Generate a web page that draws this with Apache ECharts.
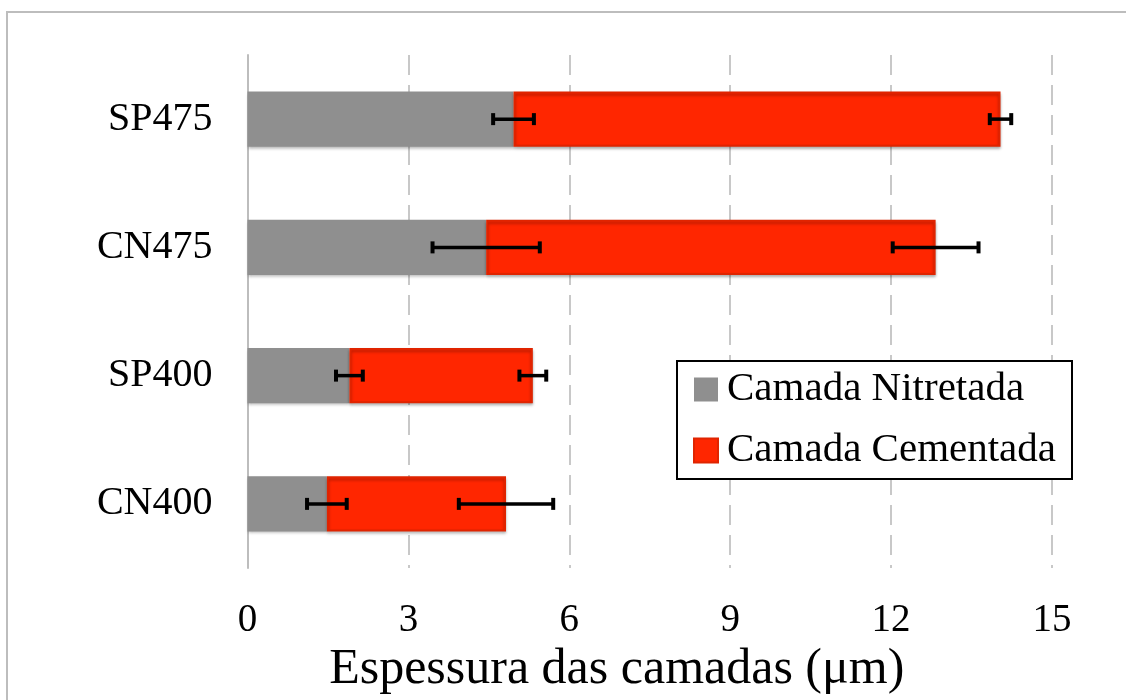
<!DOCTYPE html>
<html>
<head>
<meta charset="utf-8">
<script src="https://cdn.jsdelivr.net/npm/echarts@6/dist/echarts.min.js"></script>
<style>
html,body{margin:0;padding:0;background:#fff;}
#chart{width:1126px;height:700px;}
</style>
</head>
<body>
<div id="chart"></div>
<script>
const categories = ['CN400', 'SP400', 'CN475', 'SP475'];
const seriesNames = ['Camada Nitretada', 'Camada Cementada'];
const nitretada = [1.48, 1.90, 4.45, 4.96];
const cementada = [3.34, 3.42, 8.38, 9.08];
const errNitretada = [0.37, 0.25, 1.0, 0.38];
const errTotal = [0.88, 0.25, 0.8, 0.2];
const xTicks = [0, 3, 6, 9, 12, 15];
const axisTitle = 'Espessura das camadas (μm)';

const FONT = '"Liberation Serif", "Times New Roman", serif';

const errData = [];
categories.forEach((c, i) => {
  const a = nitretada[i];
  const t = nitretada[i] + cementada[i];
  errData.push([a - errNitretada[i], a + errNitretada[i], i]);
  errData.push([t - errTotal[i], t + errTotal[i], i]);
});

function renderErr(params, api) {
  const lo = api.coord([api.value(0), api.value(2)]);
  const hi = api.coord([api.value(1), api.value(2)]);
  const y = lo[1];
  const h = 6;
  const style = { stroke: '#000', lineWidth: 3.5 };
  const capStyle = { stroke: '#000', lineWidth: 4 };
  return {
    type: 'group',
    children: [
      { type: 'line', shape: { x1: lo[0], y1: y, x2: hi[0], y2: y }, style },
      { type: 'line', shape: { x1: lo[0], y1: y - h, x2: lo[0], y2: y + h }, style: capStyle },
      { type: 'line', shape: { x1: hi[0], y1: y - h, x2: hi[0], y2: y + h }, style: capStyle }
    ]
  };
}

const chart = echarts.init(document.getElementById('chart'), null, { renderer: 'canvas' });
chart.setOption({
  backgroundColor: '#fff',
  animation: false,
  graphic: [{
    type: 'rect',
    shape: { x: 7, y: 12, width: 1140, height: 720 },
    style: { fill: 'none', stroke: '#bdbdbd', lineWidth: 2 },
    z: -10
  }],
  grid: { left: 247.5, right: 74, top: 55, bottom: 132, containLabel: false },
  legend: {
    orient: 'vertical',
    left: 677,
    top: 361,
    padding: [6, 16, 6, 16],
    itemGap: 16,
    itemWidth: 24,
    itemHeight: 24,
    icon: 'rect',
    backgroundColor: '#fff',
    borderColor: '#000',
    borderWidth: 2,
    borderRadius: 0,
    data: seriesNames,
    textStyle: { fontFamily: FONT, fontSize: 41, color: '#000', lineHeight: 45, padding: [0, 0, 0, 4] }
  },
  xAxis: {
    type: 'value',
    min: 0, max: 15, interval: 3,
    axisLine: { show: false },
    axisTick: { show: false },
    axisLabel: {
      fontFamily: FONT, fontSize: 39, color: '#000', margin: 33,
      formatter: v => xTicks.includes(v) ? String(v) : ''
    },
    splitLine: { show: true, lineStyle: { color: '#c8c8c8', width: 2, type: [20, 10] } },
    name: axisTitle,
    nameLocation: 'middle',
    nameGap: 77,
    nameTextStyle: { fontFamily: FONT, fontSize: 50, color: '#000', padding: [0, 66, 0, 0] }
  },
  yAxis: {
    type: 'category',
    data: categories,
    axisLine: { show: true, lineStyle: { color: '#bdbdbd', width: 2 } },
    axisTick: { show: false },
    axisLabel: { fontFamily: FONT, fontSize: 40, color: '#000', margin: 35 },
    splitLine: { show: false }
  },
  series: [
    {
      name: seriesNames[0], type: 'bar', stack: 'total', barWidth: '43%',
      data: nitretada,
      itemStyle: { color: '#8f8f8f', shadowBlur: 3, shadowColor: 'rgba(0,0,0,0.3)', shadowOffsetY: 2 },
      z: 2
    },
    {
      name: seriesNames[1], type: 'bar', stack: 'total', barWidth: '43%',
      data: cementada,
      itemStyle: { color: '#ff2600', borderColor: '#e02400', borderWidth: 2, shadowBlur: 3, shadowColor: 'rgba(0,0,0,0.3)', shadowOffsetY: 2 },
      z: 2
    },
    {
      type: 'custom', renderItem: renderErr,
      data: errData,
      encode: { x: [0, 1], y: 2 },
      z: 5, silent: true
    }
  ]
});
</script>
</body>
</html>
